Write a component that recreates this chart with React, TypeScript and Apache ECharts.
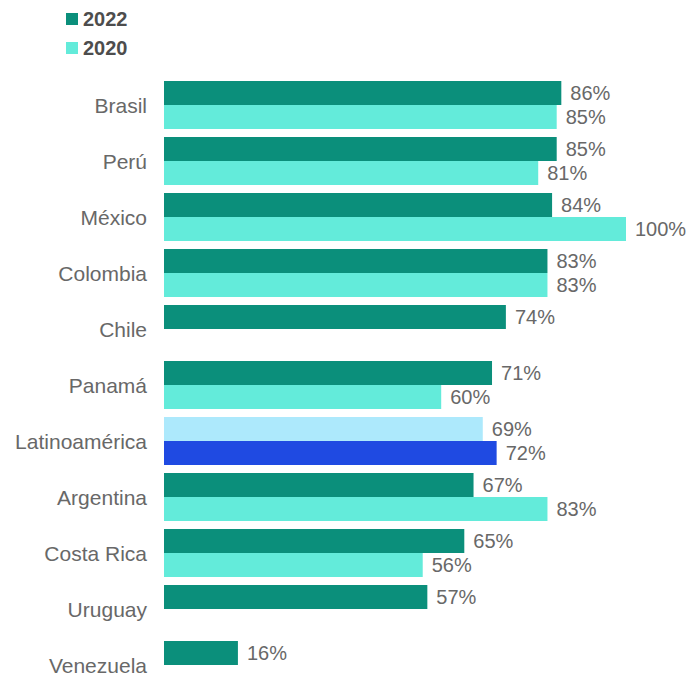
import React, { useEffect, useRef } from "react";
import * as echarts from "echarts";

const categories = ["Brasil", "Perú", "México", "Colombia", "Chile", "Panamá", "Latinoamérica", "Argentina", "Costa Rica", "Uruguay", "Venezuela"];
const values2022 = [86, 85, 84, 83, 74, 71, 69, 67, 65, 57, 16];
const values2020: (number | null)[] = [85, 81, 100, 83, null, 60, 72, 83, 56, null, null];
const highlightIndex = 6;

const C2022 = "#0b8f7b";
const C2020 = "#63ebda";
const CHL_TOP = "#ade9fc";
const CHL_BOT = "#1f4ae2";
const TEXT = "#686868";
const FONT = "'Liberation Sans', Arial, sans-serif";

export default function App() {
  const ref = useRef<HTMLDivElement>(null);
  useEffect(() => {
    if (!ref.current) return;
    const chart = echarts.init(ref.current, undefined, { renderer: "svg" });
    const label = {
      show: true,
      position: "right" as const,
      distance: 9,
      color: TEXT,
      fontSize: 20,
      fontFamily: FONT,
      formatter: (p: any) => (p.value == null ? "" : p.value + "%"),
    };
    chart.setOption({
      animation: false,
      backgroundColor: "#ffffff",
      legend: {
        orient: "vertical",
        left: 61,
        top: 4,
        icon: "rect",
        itemWidth: 12,
        itemHeight: 12,
        itemGap: 9,
        textStyle: { fontSize: 20, fontWeight: "bold", color: "#4d4d4d", fontFamily: FONT },
        data: ["2022", "2020"],
      },
      grid: { left: 164, top: 77, width: 462, height: 616, containLabel: false },
      xAxis: {
        type: "value",
        min: 0,
        max: 100,
        show: false,
      },
      yAxis: {
        type: "category",
        data: categories,
        inverse: true,
        axisLine: { show: false },
        axisTick: { show: false },
        splitLine: { show: false },
        axisLabel: { color: TEXT, fontSize: 21, fontFamily: FONT, margin: 17 },
      },
      series: [
        {
          name: "2022",
          type: "bar",
          barWidth: 24,
          barGap: "0%",
          itemStyle: { color: C2022 },
          label,
          data: values2022.map((v, i) =>
            i === highlightIndex ? { value: v, itemStyle: { color: CHL_TOP } } : v
          ),
        },
        {
          name: "2020",
          type: "bar",
          barWidth: 24,
          barGap: "0%",
          itemStyle: { color: C2020 },
          label,
          data: values2020.map((v, i) =>
            i === highlightIndex ? { value: v, itemStyle: { color: CHL_BOT } } : v
          ),
        },
      ],
    });
    return () => chart.dispose();
  }, []);
  return (
    <div style={{ position: "absolute", left: 0, top: 0, width: 690, height: 675, overflow: "hidden" }}>
      <div ref={ref} style={{ width: 690, height: 720 }} />
    </div>
  );
}
